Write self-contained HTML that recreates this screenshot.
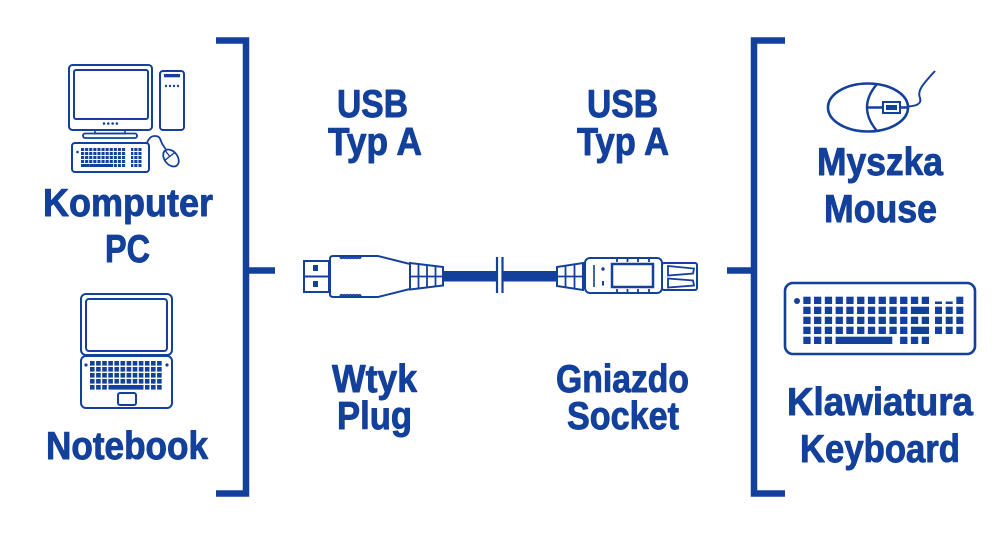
<!DOCTYPE html>
<html>
<head>
<meta charset="utf-8">
<style>
  html,body{margin:0;padding:0;background:#fff;}
  svg{display:block;}
  text{font-family:"Liberation Sans",Arial,sans-serif;font-weight:bold;font-size:39px;fill:#12409a;stroke:#12409a;stroke-width:0.9px;stroke-linejoin:round;}
</style>
</head>
<body>
<svg width="1000" height="536" viewBox="0 0 1000 536" xmlns="http://www.w3.org/2000/svg">
  <defs>
    <pattern id="pcKeys" x="81" y="148" width="4.1" height="4" patternUnits="userSpaceOnUse">
      <rect x="0" y="0" width="3.1" height="3" fill="#12409a"/>
    </pattern>
    <pattern id="lapKeys" x="90" y="361" width="6.1" height="6" patternUnits="userSpaceOnUse">
      <rect x="0" y="0" width="4.6" height="4.6" fill="#12409a"/>
    </pattern>
  </defs>
  <rect width="1000" height="536" fill="#fff"/>

  <g fill="none" stroke="#12409a">
    <!-- Brackets -->
    <path d="M216,40.5 H246 V493.5 H216" stroke-width="6.5"/>
    <line x1="246" y1="270.5" x2="275" y2="270.5" stroke-width="6.5"/>
    <path d="M785,40.5 H754 V493.5 H785" stroke-width="6.5"/>
    <line x1="727" y1="270.5" x2="754" y2="270.5" stroke-width="6.5"/>

    <!-- Desktop computer -->
    <rect x="69" y="65" width="83" height="65" rx="3.5" stroke-width="2"/>
    <rect x="74" y="70" width="74" height="49" rx="2" stroke-width="2"/>
    <rect x="95" y="130" width="30" height="3.5" stroke-width="1.6"/>
    <rect x="83" y="133.5" width="54" height="4.5" rx="2" stroke-width="1.8"/>
    <rect x="160" y="71" width="24" height="59" rx="3" stroke-width="2"/>
    <rect x="72" y="143" width="77" height="29" rx="3" stroke-width="2"/>
    <path d="M147,143 C149,138 151,136 155,136 C159,136 160,138 161,141 C162,145 165,147 166,150" stroke-width="1.8"/>
    <g transform="rotate(-38 171 158)">
      <ellipse cx="171" cy="158" rx="6.5" ry="9.5" stroke-width="1.8"/>
      <path d="M164.5,156 H177.5 M171,148.5 V156" stroke-width="1.3"/>
    </g>

    <!-- Laptop -->
    <rect x="81" y="294" width="91" height="61" rx="5" stroke-width="2"/>
    <rect x="86" y="299" width="81" height="52" rx="3" stroke-width="2"/>
    <rect x="81" y="356" width="91" height="52" rx="5" stroke-width="2"/>
    <rect x="118" y="393" width="18" height="12" rx="2" stroke-width="2"/>

    <!-- Mouse (right) -->
    <ellipse cx="868" cy="107.5" rx="40" ry="24" stroke-width="2.6"/>
    <path d="M877,84 Q857,107.5 877,131" stroke-width="2.4"/>
    <line x1="867" y1="107.5" x2="909" y2="107.5" stroke-width="2.4"/>
    <path d="M908,106.5 C916,106 922,104 920,98 C917,91 922,85 935,71" stroke-width="2"/>

    <!-- Keyboard (right) -->
    <rect x="785" y="283" width="190" height="71" rx="8" stroke-width="2.6"/>

    <!-- USB plug (left) -->
    <rect x="304" y="261" width="25" height="31" stroke-width="2" fill="#fff"/>
    <line x1="304" y1="276.5" x2="329" y2="276.5" stroke-width="2"/>
    <path d="M333,256 L378,256 L410,264 L410,289 L378,297 L333,297 Q330,297 330,294 L330,259 Q330,256 333,256 Z" stroke-width="2" fill="#fff"/>
    <path d="M340,257 q1.5,2.5 3,0 q1.5,2.5 3,0 q1.5,2.5 3,0 q1.5,2.5 3,0 q1.5,2.5 3,0 q1.5,2.5 3,0 q1.5,2.5 3,0" stroke-width="1.8"/>
    <path d="M340,296 q1.5,-2.5 3,0 q1.5,-2.5 3,0 q1.5,-2.5 3,0 q1.5,-2.5 3,0 q1.5,-2.5 3,0 q1.5,-2.5 3,0 q1.5,-2.5 3,0" stroke-width="1.8"/>
    <path d="M410,263 L443,267 L443,285.5 L410,289.5 Z" stroke-width="2"/>
    <path d="M418.5,264 V288.5 M427,265 V287.5 M435.5,266 V286.5 M410,276.5 H443" stroke-width="1.8"/>

    <!-- break marks -->
    <line x1="497" y1="257" x2="497" y2="293" stroke-width="2.2"/>
    <line x1="502.5" y1="257" x2="502.5" y2="293" stroke-width="2.2"/>

    <!-- Socket (right) -->
    <path d="M557,267 L583,263 L583,290 L557,286 Z" stroke-width="2"/>
    <path d="M565.5,266 V287 M574.5,264.5 V288.5 M557,276.5 H583" stroke-width="1.8"/>
    <rect x="585" y="258" width="77" height="35" rx="5" stroke-width="2" fill="#fff"/>
    <line x1="594" y1="265" x2="594" y2="287" stroke-width="1.6"/>
    <rect x="612" y="264" width="41" height="23" stroke-width="2.5"/>
    <path d="M617,258 V262 M627.5,258 V262 M638,258 V262 M649,258 V262 M617,289 V293 M627.5,289 V293 M638,289 V293 M649,289 V293" stroke-width="1.8"/>
    <rect x="662" y="263" width="35" height="27" rx="2" stroke-width="2"/>
    <path d="M668,266 L694,268.5 L693,273.5 L668,275.5 Z" stroke-width="1.8"/>
    <path d="M668,278.5 L693,280.5 L694,285.5 L668,287.5 Z" stroke-width="1.8"/>
  </g>

  <g fill="#12409a">
    <!-- desktop details -->
    <circle cx="104" cy="123.5" r="1.3"/><circle cx="108.3" cy="123.5" r="1.3"/>
    <circle cx="112.6" cy="123.5" r="1.3"/><circle cx="116.9" cy="123.5" r="1.3"/>
    <rect x="164" y="74" width="16" height="3.3"/>
    <circle cx="166" cy="86" r="1.2"/><circle cx="170" cy="86" r="1.2"/>
    <circle cx="174" cy="86" r="1.2"/><circle cx="178" cy="86" r="1.2"/>
    <circle cx="77.5" cy="152" r="1.3"/>
    <rect x="81" y="148" width="45" height="16" fill="url(#pcKeys)"/>
    <rect x="81" y="164" width="8" height="3" />
    <rect x="89.2" y="164" width="24" height="3"/>
    <rect x="114" y="164" width="12" height="3" fill="url(#pcKeys)"/>
    <rect x="131" y="148" width="11" height="19" fill="url(#pcKeys)"/>

    <!-- laptop keys -->
    <circle cx="86" cy="365" r="1.6"/><circle cx="167" cy="365" r="1.6"/>
    <rect x="90" y="361" width="73" height="24" fill="url(#lapKeys)"/>
    <rect x="90" y="385" width="18" height="5" fill="url(#lapKeys)"/>
    <rect x="108.5" y="385" width="35" height="4.6"/>
    <rect x="145" y="385" width="18" height="5" fill="url(#lapKeys)"/>

    <!-- mouse button -->
    <rect x="883" y="102" width="17" height="11" fill="#fff" stroke="#12409a" stroke-width="2"/>
    <rect x="886" y="105" width="11" height="5"/>

    <!-- keyboard right -->
    <circle cx="797" cy="301" r="3"/>
    <g>
      <rect x="803.3" y="296.7" width="7.3" height="7.3"/><rect x="814" y="296.7" width="7.3" height="7.3"/>
      <rect x="824.8" y="296.7" width="7.3" height="7.3"/><rect x="835.6" y="296.7" width="7.3" height="7.3"/>
      <rect x="846.3" y="296.7" width="7.3" height="7.3"/><rect x="857.1" y="296.7" width="7.3" height="7.3"/>
      <rect x="867.9" y="296.7" width="7.3" height="7.3"/><rect x="878.6" y="296.7" width="7.3" height="7.3"/>
      <rect x="889.4" y="296.7" width="7.3" height="7.3"/><rect x="900.1" y="296.7" width="7.3" height="7.3"/>
      <rect x="910.9" y="296.7" width="7.3" height="7.3"/><rect x="921.7" y="296.7" width="7.3" height="7.3"/>
      <rect x="935" y="301.5" width="7" height="2.5"/><rect x="945.7" y="301.5" width="7" height="2.5"/>
      <rect x="956.3" y="296.7" width="7" height="7.3"/>
    </g>
    <g>
      <rect x="803.3" y="306.7" width="7.3" height="7.3"/><rect x="814" y="306.7" width="7.3" height="7.3"/>
      <rect x="824.8" y="306.7" width="7.3" height="7.3"/><rect x="835.6" y="306.7" width="7.3" height="7.3"/>
      <rect x="846.3" y="306.7" width="7.3" height="7.3"/><rect x="857.1" y="306.7" width="7.3" height="7.3"/>
      <rect x="867.9" y="306.7" width="7.3" height="7.3"/><rect x="878.6" y="306.7" width="7.3" height="7.3"/>
      <rect x="889.4" y="306.7" width="7.3" height="7.3"/><rect x="900.1" y="306.7" width="7.3" height="7.3"/>
      <rect x="910.9" y="306.7" width="18.1" height="7.3"/>
      <rect x="935" y="306.7" width="7" height="7.3"/><rect x="945.7" y="306.7" width="7" height="7.3"/>
      <rect x="956.3" y="306.7" width="7" height="7.3"/>
    </g>
    <g>
      <rect x="803.3" y="316.7" width="7.3" height="7.3"/><rect x="814" y="316.7" width="7.3" height="7.3"/>
      <rect x="824.8" y="316.7" width="7.3" height="7.3"/><rect x="835.6" y="316.7" width="7.3" height="7.3"/>
      <rect x="846.3" y="316.7" width="7.3" height="7.3"/><rect x="857.1" y="316.7" width="7.3" height="7.3"/>
      <rect x="867.9" y="316.7" width="7.3" height="7.3"/><rect x="878.6" y="316.7" width="7.3" height="7.3"/>
      <rect x="889.4" y="316.7" width="7.3" height="7.3"/><rect x="900.1" y="316.7" width="7.3" height="7.3"/>
      <rect x="910.9" y="316.7" width="7.3" height="7.3"/><rect x="921.7" y="316.7" width="7.3" height="7.3"/>
      <rect x="935" y="316.7" width="7" height="7.3"/><rect x="945.7" y="316.7" width="7" height="7.3"/>
      <rect x="956.3" y="316.7" width="7" height="7.3"/>
    </g>
    <g>
      <rect x="803.3" y="326.7" width="7.3" height="7.3"/><rect x="814" y="326.7" width="7.3" height="7.3"/>
      <rect x="824.8" y="326.7" width="7.3" height="7.3"/><rect x="835.6" y="326.7" width="7.3" height="7.3"/>
      <rect x="846.3" y="326.7" width="7.3" height="7.3"/><rect x="857.1" y="326.7" width="7.3" height="7.3"/>
      <rect x="867.9" y="326.7" width="7.3" height="7.3"/><rect x="878.6" y="326.7" width="7.3" height="7.3"/>
      <rect x="889.4" y="326.7" width="7.3" height="7.3"/><rect x="900.1" y="326.7" width="7.3" height="7.3"/>
      <rect x="910.9" y="326.7" width="18.1" height="7.3"/>
      <rect x="935" y="326.7" width="7" height="7.3"/><rect x="945.7" y="326.7" width="7" height="7.3"/>
      <rect x="956.3" y="326.7" width="7" height="7.3"/>
    </g>
    <g>
      <rect x="803.3" y="336.7" width="7.3" height="7.3"/><rect x="814" y="336.7" width="7.3" height="7.3"/>
      <rect x="824.8" y="336.7" width="7.3" height="7.3"/>
      <rect x="835.6" y="336.7" width="56.7" height="7.3"/>
      <rect x="900.1" y="336.7" width="7.3" height="7.3"/>
      <rect x="910.9" y="336.7" width="7.3" height="7.3"/><rect x="921.7" y="336.7" width="7.3" height="7.3"/>
    </g>

    <!-- USB plug details -->
    <rect x="313" y="265" width="5" height="6"/>
    <rect x="313" y="281" width="5" height="6"/>
    <!-- cable -->
    <rect x="443" y="271" width="53" height="10.5"/>
    <rect x="503.5" y="271" width="54" height="10.5"/>
    <!-- socket details -->
    <circle cx="603" cy="269" r="1.7"/>
    <rect x="602" y="281" width="2" height="4.5"/>
  </g>

  <!-- Text -->
  <text x="43" y="216" textLength="170" lengthAdjust="spacingAndGlyphs">Komputer</text>
  <text x="105" y="262" textLength="45" lengthAdjust="spacingAndGlyphs">PC</text>
  <text x="46" y="459" textLength="162" lengthAdjust="spacingAndGlyphs">Notebook</text>

  <text x="337" y="117" textLength="71" lengthAdjust="spacingAndGlyphs">USB</text>
  <text x="328" y="155" textLength="94" lengthAdjust="spacingAndGlyphs">Typ A</text>
  <text x="587" y="117" textLength="71" lengthAdjust="spacingAndGlyphs">USB</text>
  <text x="577" y="155" textLength="92" lengthAdjust="spacingAndGlyphs">Typ A</text>

  <text x="332" y="392" textLength="85" lengthAdjust="spacingAndGlyphs">Wtyk</text>
  <text x="337" y="429" textLength="75" lengthAdjust="spacingAndGlyphs">Plug</text>
  <text x="556" y="392" textLength="133" lengthAdjust="spacingAndGlyphs">Gniazdo</text>
  <text x="567" y="429" textLength="112" lengthAdjust="spacingAndGlyphs">Socket</text>

  <text x="817" y="175" textLength="126" lengthAdjust="spacingAndGlyphs">Myszka</text>
  <text x="824" y="222" textLength="113" lengthAdjust="spacingAndGlyphs">Mouse</text>
  <text x="787" y="415" textLength="186" lengthAdjust="spacingAndGlyphs">Klawiatura</text>
  <text x="800" y="462" textLength="160" lengthAdjust="spacingAndGlyphs">Keyboard</text>
</svg>
</body>
</html>
